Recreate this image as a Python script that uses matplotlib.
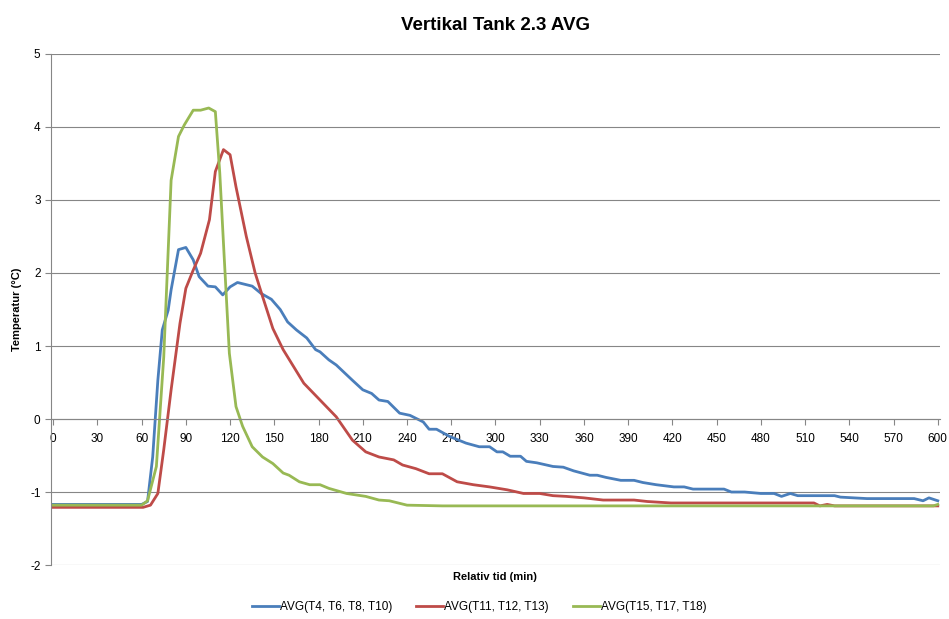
import matplotlib
matplotlib.use('Agg')
import matplotlib.pyplot as plt

# Relative time (min) and averaged temperatures (degC)
blue_t = [0, 60, 64, 67.5, 71, 74, 78, 80, 85, 90, 95, 99, 105, 110, 115, 120, 125, 131, 135, 141,
          148, 154, 159, 165, 172, 178, 181, 187, 192, 203, 210, 216, 221, 227, 235, 242, 251, 255, 260, 269,
          280, 289, 296, 301, 305, 310, 317, 321, 328, 339, 346, 353, 364, 369, 375, 385, 394, 400, 409, 421,
          428, 434, 455, 460, 469, 480, 489, 494, 500, 505, 530, 534, 552, 584, 590, 594, 600]
blue_v = [-1.17, -1.17, -1.13, -0.52, 0.53, 1.22, 1.49, 1.77, 2.32, 2.35, 2.18, 1.95, 1.82, 1.81, 1.70, 1.81, 1.87, 1.84, 1.82, 1.72,
          1.64, 1.50, 1.33, 1.22, 1.11, 0.95, 0.92, 0.81, 0.74, 0.53, 0.40, 0.35, 0.26, 0.24, 0.08, 0.05, -0.04, -0.14, -0.14, -0.24,
          -0.33, -0.38, -0.38, -0.45, -0.45, -0.51, -0.51, -0.58, -0.60, -0.65, -0.66, -0.71, -0.77, -0.77, -0.80, -0.84, -0.84, -0.87, -0.90, -0.93,
          -0.93, -0.96, -0.96, -1.00, -1.00, -1.02, -1.02, -1.06, -1.02, -1.05, -1.05, -1.07, -1.09, -1.09, -1.12, -1.08, -1.12]

red_t = [0, 61, 66, 71, 75, 80, 86, 90, 95, 100, 106, 110, 115.5, 120, 124, 131, 137, 142, 149, 156,
         163, 170, 181, 192, 203, 212, 221, 231, 237, 246, 255, 264, 274, 285, 296, 308, 319, 330, 339, 348,
         360, 373, 394, 403, 419, 516, 520, 525, 530, 600]
red_v = [-1.21, -1.21, -1.18, -1.02, -0.42, 0.40, 1.31, 1.79, 2.04, 2.27, 2.73, 3.39, 3.69, 3.62, 3.18, 2.50, 2.00, 1.68, 1.24, 0.95,
         0.72, 0.49, 0.26, 0.03, -0.29, -0.45, -0.52, -0.56, -0.63, -0.68, -0.75, -0.75, -0.86, -0.90, -0.93, -0.97, -1.02, -1.02, -1.05, -1.06,
         -1.08, -1.11, -1.11, -1.13, -1.15, -1.15, -1.19, -1.17, -1.19, -1.19]

green_t = [0, 60, 64, 70, 75, 80, 85, 89, 95, 100, 105.5, 110, 113, 116, 119.5, 124, 128.5, 135, 142, 149,
           156, 160, 167, 174, 181, 187, 199, 212, 221, 228, 240, 264, 597, 600]
green_v = [-1.18, -1.18, -1.12, -0.65, 0.85, 3.27, 3.87, 4.03, 4.23, 4.23, 4.26, 4.21, 3.37, 2.22, 0.90, 0.17, -0.10, -0.38, -0.52, -0.61,
           -0.74, -0.77, -0.86, -0.90, -0.90, -0.95, -1.02, -1.06, -1.11, -1.12, -1.18, -1.19, -1.19, -1.17]

labels = ['AVG(T4, T6, T8, T10)', 'AVG(T11, T12, T13)', 'AVG(T15, T17, T18)']
colors = ['#4A7EBB', '#BE4B48', '#98B954']
x_ticks = list(range(0, 601, 30))
y_ticks = list(range(-2, 6))

plt.rcParams['font.family'] = ['Liberation Sans', 'DejaVu Sans']
plt.rcParams['axes.unicode_minus'] = False

fig = plt.figure(figsize=(9.49, 6.19), dpi=100)
ax = fig.add_axes([0.0537, 0.0872, 0.9368, 0.8256])

for t, v, lab, c in zip([blue_t, red_t, green_t], [blue_v, red_v, green_v], labels, colors):
    ax.plot(t, v, color=c, lw=2.0, label=lab, solid_joinstyle='round')

ax.set_xlim(-1.5, 601.5)
ax.set_ylim(-2, 5)
ax.set_xticks(x_ticks)
ax.set_yticks(y_ticks)
ax.tick_params(axis='both', labelsize=8.5, colors='#868686', labelcolor='black', length=4)
ax.tick_params(axis='x', pad=6)
ax.grid(axis='y', color='#868686', lw=0.8)
ax.set_axisbelow(True)

# x axis crosses at y=0, like in Excel
ax.spines['bottom'].set_position(('data', 0))
ax.spines['top'].set_visible(False)
ax.spines['right'].set_visible(False)
ax.spines['left'].set_color('#868686')
ax.spines['bottom'].set_color('#868686')

ax.set_title('Vertikal Tank 2.3 AVG', fontsize=13.5, fontweight='bold', pad=17)
ax.set_ylabel('Temperatur (°C)', fontsize=8, fontweight='bold', labelpad=6)
fig.text(0.522, 1 - 577 / 619, 'Relativ tid (min)', fontsize=8, fontweight='bold', ha='center', va='center')

fig.legend(loc='center', bbox_to_anchor=(0.505, 1 - 607 / 619), ncol=3, frameon=False,
           fontsize=8.5, handlelength=2.3, handletextpad=0.1, columnspacing=2.0)

fig.savefig('out.png', dpi=100, facecolor='white')
